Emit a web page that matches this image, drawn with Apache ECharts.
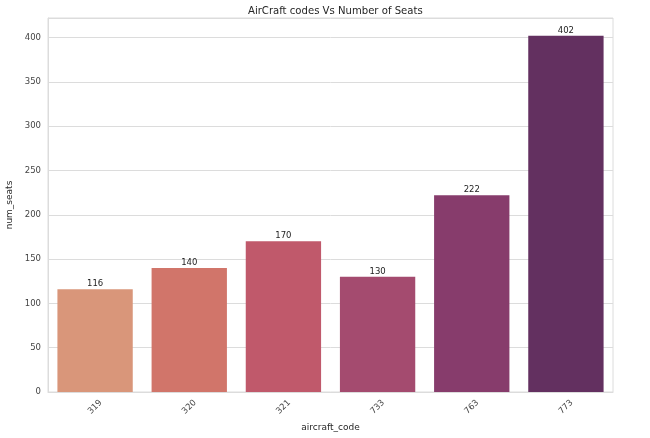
<!DOCTYPE html>
<html><head><meta charset="utf-8">
<script src="https://cdn.jsdelivr.net/npm/echarts@6/dist/echarts.min.js"></script>
<style>html,body{margin:0;padding:0;background:#fff}#c{width:650px;height:438px}</style>
</head><body><div id="c"></div>
<script>
const categories = ['319','320','321','733','763','773'];
const seats = [116,140,170,130,222,402];
const barColors = ['#d9967a','#d1756a','#c0596b','#a44b6f','#873c6c','#633060'];
const yTicks = [0,50,100,150,200,250,300,350,400];

const chart = echarts.init(document.getElementById('c'), null, {renderer:'canvas'});
chart.setOption({
  animation:false,
  backgroundColor:'#fff',
  title:{text:'AirCraft codes Vs Number of Seats', left:243, top:1,
    textStyle:{fontFamily:'DejaVu Sans', fontSize:10.1, fontWeight:'normal', color:'#262626'}},
  grid:{left:48, right:37, top:18, bottom:46, show:true, borderColor:'#dcdcdc', borderWidth:1,
    containLabel:false, outerBoundsMode:'none'},
  xAxis:{type:'category', data:categories,
    name:'aircraft_code', nameLocation:'middle', nameGap:29,
    nameTextStyle:{fontFamily:'DejaVu Sans', fontSize:9, color:'#262626'},
    axisLine:{show:true, lineStyle:{color:'#dcdcdc'}},
    axisTick:{show:false},
    axisLabel:{rotate:45, align:'center', verticalAlign:'middle', fontFamily:'DejaVu Sans', fontSize:8.5, color:'#444', margin:15}
  },
  yAxis:{type:'value', min:0, max:422.1, interval:50,
    name:'num_seats', nameLocation:'middle', nameGap:29,
    nameTextStyle:{fontFamily:'DejaVu Sans', fontSize:9, color:'#262626'},
    axisLine:{show:true, lineStyle:{color:'#dcdcdc'}},
    axisTick:{show:false},
    splitLine:{lineStyle:{color:'#dcdcdc'}},
    axisLabel:{fontFamily:'DejaVu Sans', fontSize:8.5, color:'#444', margin:7,
      formatter:function(v){return yTicks.indexOf(v)>=0?String(v):'';}}
  },
  series:[{type:'bar', barCategoryGap:'20%',
    data:seats.map((v,i)=>({value:v, itemStyle:{color:barColors[i]}})),
    label:{show:true, position:'top', distance:1, fontFamily:'DejaVu Sans', fontSize:8.5, color:'#222'}
  }]
});
</script></body></html>
